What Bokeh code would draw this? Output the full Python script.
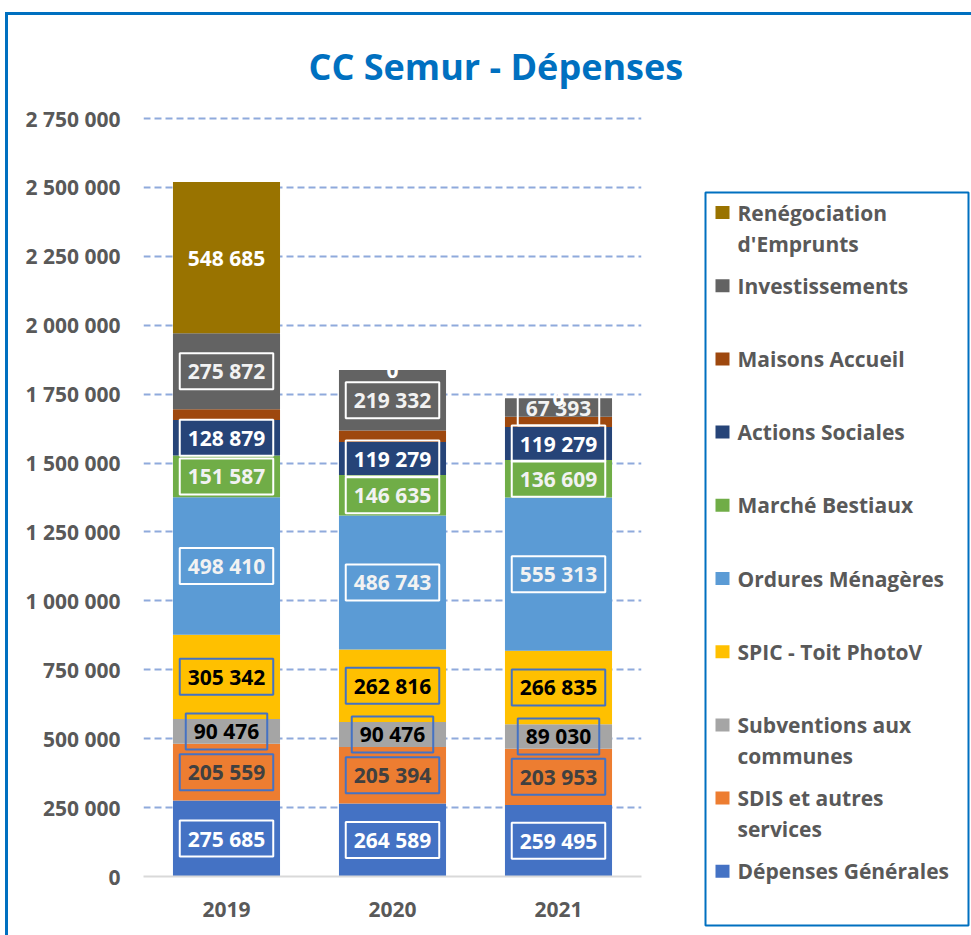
from bokeh.plotting import figure
from bokeh.models import ColumnDataSource, Range1d, FixedTicker, Label
from bokeh.layouts import row
from bokeh.embed import file_html
from bokeh.resources import INLINE

# ---------------- data ----------------
years = ["2019", "2020", "2021"]
series_keys = ["gen", "sdis", "subv", "spic", "om", "marche", "actions", "maisons", "invest", "reneg"]
series_names = ["Dépenses Générales", "SDIS et autres services", "Subventions aux communes",
                "SPIC - Toit PhotoV", "Ordures Ménagères", "Marché Bestiaux", "Actions Sociales",
                "Maisons Accueil", "Investissements", "Renégociation d'Emprunts"]
legend_lines = [["Dépenses Générales"], ["SDIS et autres", "services"], ["Subventions aux", "communes"],
                ["SPIC - Toit PhotoV"], ["Ordures Ménagères"], ["Marché Bestiaux"], ["Actions Sociales"],
                ["Maisons Accueil"], ["Investissements"], ["Renégociation", "d'Emprunts"]]
depenses_generales = [275685, 264589, 259495]
sdis_autres_services = [205559, 205394, 203953]
subventions_communes = [90476, 90476, 89030]
spic_toit_photov = [305342, 262816, 266835]
ordures_menageres = [498410, 486743, 555313]
marche_bestiaux = [151587, 146635, 136609]
actions_sociales = [128879, 119279, 119279]
maisons_accueil = [39000, 42000, 37000]
investissements = [275872, 219332, 67393]
renegociation_emprunts = [548685, 0, 0]

y_ticks = [0, 250000, 500000, 750000, 1000000, 1250000, 1500000, 1750000, 2000000, 2250000, 2500000, 2750000]
y_tick_labels = ["0", "250 000", "500 000", "750 000", "1 000 000", "1 250 000", "1 500 000",
                 "1 750 000", "2 000 000", "2 250 000", "2 500 000", "2 750 000"]
title_text = "CC Semur - Dépenses"

# ---------------- styles ----------------
colors = ["#4472C4", "#ED7D31", "#A5A5A5", "#FFC000", "#5B9BD5", "#70AD47", "#264478", "#9E480E", "#636363", "#997300"]
label_text_colors = ["#FFFFFF", "#404040", "#000000", "#000000", "#F2F2F2", "#F2F2F2", "#FFFFFF", None, "#F2F2F2", "#FFFFFF"]
label_box_colors = ["#FFFFFF", "#4472C4", "#4472C4", "#4472C4", "#FFFFFF", "#FFFFFF", "#FFFFFF", None, "#FFFFFF", None]
FONT = "Open Sans"
GREY = "#595959"
BLUE = "#0070C0"

values = [depenses_generales, sdis_autres_services, subventions_communes, spic_toit_photov,
          ordures_menageres, marche_bestiaux, actions_sociales, maisons_accueil,
          investissements, renegociation_emprunts]

x_pos = [i + 0.5 for i in range(len(years))]
data = {"x": x_pos}
for k, v in zip(series_keys, values):
    data[k] = v
src = ColumnDataSource(data)

Y_MAX = y_ticks[-1]
# main figure geometry (page offset 8,15)
W1, H = 692, 920
FRAME_L, FRAME_W = 135, 498
FRAME_T, FRAME_H = 100, 761          # 3px headroom above the top tick
y_end = Y_MAX * FRAME_H / 758

p = figure(width=W1, height=H, output_backend="svg", toolbar_location=None,
           x_range=Range1d(0, len(years)), y_range=Range1d(0, y_end),
           min_border_left=FRAME_L, min_border_right=W1 - FRAME_L - FRAME_W,
           min_border_top=FRAME_T, min_border_bottom=H - FRAME_T - FRAME_H,
           frame_align=False)
p.outline_line_color = None
p.background_fill_color = "white"
p.border_fill_color = "white"

p.title.text = title_text
p.title.text_font = FONT
p.title.text_font_style = "bold"
p.title.text_font_size = "36px"
p.title.text_color = BLUE
p.title.align = "left"
p.title.offset = 165
p.title.standoff = 49

p.vbar_stack(series_keys, x="x", width=0.645, color=colors, line_color=None, source=src)

# axes
p.xaxis.ticker = FixedTicker(ticks=x_pos)
p.xaxis.major_label_overrides = {x: y for x, y in zip(x_pos, years)}
p.xaxis.axis_line_color = "#D9D9D9"
p.xaxis.axis_line_width = 2
p.xaxis.major_tick_line_color = None
p.xaxis.minor_tick_line_color = None
p.xaxis.major_tick_out = 0
p.xaxis.major_label_standoff = 25
p.xaxis.major_label_text_font = FONT
p.xaxis.major_label_text_font_style = "bold"
p.xaxis.major_label_text_font_size = "21px"
p.xaxis.major_label_text_color = GREY

p.yaxis.ticker = FixedTicker(ticks=y_ticks)
p.yaxis.major_label_overrides = {t: l for t, l in zip(y_ticks, y_tick_labels)}
p.yaxis.axis_line_color = None
p.yaxis.major_tick_line_color = None
p.yaxis.minor_tick_line_color = None
p.yaxis.major_tick_out = 0
p.yaxis.major_label_standoff = 23
p.yaxis.major_label_text_font = FONT
p.yaxis.major_label_text_font_style = "bold"
p.yaxis.major_label_text_font_size = "21px"
p.yaxis.major_label_text_color = GREY

p.xgrid.grid_line_color = None
p.ygrid.grid_line_color = "#8FAADC"
p.ygrid.grid_line_width = 2
p.ygrid.grid_line_dash = "7 4"

# data labels
for si, vals in enumerate(values):
    tc = label_text_colors[si]
    if tc is None:
        continue
    bc = label_box_colors[si]
    for yi in range(len(years)):
        base = sum(values[k][yi] for k in range(si))
        mid = base + vals[yi] / 2
        txt = f"{vals[yi]:,}".replace(",", " ")
        kw = dict(x=x_pos[yi], y=mid, text=txt, text_align="center", text_baseline="middle",
                  text_font=FONT, text_font_style="bold", text_font_size="21px", text_color=tc)
        if bc is not None:
            kw.update(border_line_color=bc, border_line_width=2,
                      padding=dict(left=8, right=8, top=4, bottom=4))
        p.add_layout(Label(**kw))

# ---------------- legend figure ----------------
W2 = 271
BOX_W, BOX_H = 263, 733
leg = figure(width=W2, height=H, output_backend="svg", toolbar_location=None,
             x_range=Range1d(0, BOX_W), y_range=Range1d(BOX_H, 0),
             min_border_left=5, min_border_right=W2 - 5 - BOX_W,
             min_border_top=177, min_border_bottom=H - 177 - BOX_H,
             frame_align=False)
leg.axis.visible = False
leg.grid.visible = False
leg.outline_line_color = BLUE
leg.outline_line_width = 2
leg.background_fill_color = "white"
leg.border_fill_color = "white"

n = len(series_keys)
sq_x, sq_y, sq_c = [], [], []
tx, ty, tt = [], [], []
for j in range(n):
    si = n - 1 - j
    yc = 20 + 73.2 * j
    sq_x.append(17)
    sq_y.append(yc)
    sq_c.append(colors[si])
    for li, line in enumerate(legend_lines[si]):
        tx.append(32)
        ty.append(yc + 31 * li)
        tt.append(line)
leg.rect(x=sq_x, y=sq_y, width=14, height=13, fill_color=sq_c, line_color=None)
leg.text(x=tx, y=ty, text=tt, text_align="left", text_baseline="middle",
         text_font={"value": FONT}, text_font_style="bold", text_font_size="21px", text_color=GREY)

layout = row(p, leg, styles={"margin-top": "12px", "margin-left": "5px",
                             "border-left": "3px solid " + BLUE, "border-top": "3px solid " + BLUE})

open("out.html", "w").write(file_html(layout, INLINE))
